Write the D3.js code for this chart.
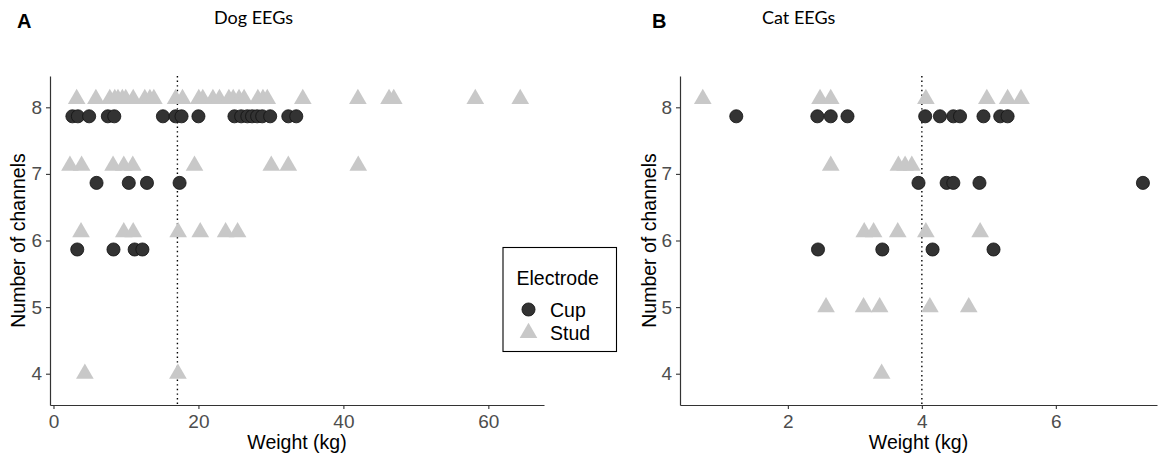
<!DOCTYPE html>
<html>
<head>
<meta charset="utf-8">
<script src="https://cdn.jsdelivr.net/npm/d3@7"></script>
<style>
  body { margin: 0; background: #fff; }
  svg { display: block; }
</style>
</head>
<body>
<div id="wrapper"></div>
<script>
// [weight kg, number of channels]
const dogCup = [
  [2.61, 8], [3.37, 8], [4.92, 8], [7.5, 8], [8.39, 8], [15.1, 8], [16.85, 8], [17.67, 8], [20.0, 8],
  [24.97, 8], [25.9, 8], [26.75, 8], [27.4, 8], [28.1, 8], [28.8, 8], [29.9, 8], [32.4, 8], [33.5, 8],
  [5.94, 7], [10.39, 7], [12.9, 7], [17.4, 7],
  [3.28, 6], [8.28, 6], [11.2, 6], [12.27, 6]
];
const dogStud = [
  [3.2, 8], [5.85, 8], [7.77, 8], [8.46, 8], [8.9, 8], [9.5, 8], [9.97, 8], [11.0, 8], [12.6, 8], [13.3, 8],
  [13.85, 8], [16.85, 8], [17.8, 8], [20.05, 8], [20.6, 8], [22.0, 8], [22.9, 8], [24.2, 8], [24.8, 8],
  [25.6, 8], [26.3, 8], [28.2, 8], [28.9, 8], [29.5, 8], [34.4, 8], [42.0, 8], [46.3, 8], [46.95, 8],
  [58.2, 8], [64.4, 8],
  [2.27, 7], [3.88, 7], [8.22, 7], [9.7, 7], [10.94, 7], [19.46, 7], [30.05, 7], [32.4, 7], [42.05, 7],
  [3.8, 6], [9.7, 6], [11.0, 6], [17.2, 6], [20.25, 6], [23.75, 6], [25.4, 6],
  [4.33, 4], [17.17, 4]
];
const catCup = [
  [1.23, 8], [2.44, 8], [2.64, 8], [2.89, 8], [4.05, 8], [4.27, 8], [4.47, 8], [4.57, 8], [4.92, 8],
  [5.17, 8], [5.28, 8],
  [3.95, 7], [4.37, 7], [4.47, 7], [4.86, 7], [7.3, 7],
  [2.45, 6], [3.41, 6], [4.16, 6], [5.07, 6]
];
const catStud = [
  [0.73, 8], [2.48, 8], [2.64, 8], [4.06, 8], [4.97, 8], [5.28, 8], [5.48, 8],
  [2.64, 7], [3.65, 7], [3.75, 7], [3.85, 7],
  [3.14, 6], [3.28, 6], [3.64, 6], [4.06, 6], [4.87, 6],
  [2.57, 5], [3.13, 5], [3.37, 5], [4.12, 5], [4.7, 5],
  [3.4, 4]
];
const dogMedian = 17.1;
const catMedian = 4.0;
const dogTicks = [0, 20, 40, 60];
const catTicks = [2, 4, 6];
const yTicks = [4, 5, 6, 7, 8];
const electrodes = ["Cup", "Stud"];

const cupFill = "#333333";
const studFill = "#c8c8c8";
const font = "Arial, 'Liberation Sans', Helvetica, sans-serif";

const svg = d3.select("#wrapper").append("svg")
  .attr("width", 1170)
  .attr("height", 459);

const circleSym = d3.symbol().type(d3.symbolCircle).size(135);
const triSym = d3.symbol().type(d3.symbolTriangle).size(135);

function drawPanel(opt) {
  const x = d3.scaleLinear().domain(opt.xDomain).range([opt.left, opt.right]);
  const y = d3.scaleLinear().domain([3.53, 8.47]).range([405, 76]);

  // dodge only on rows where both electrode types occur
  const cupRows = new Set(opt.cup.map(d => d[1]));
  const studRows = new Set(opt.stud.map(d => d[1]));
  const both = n => cupRows.has(n) && studRows.has(n);

  const g = svg.append("g");

  // dotted median line
  g.append("line")
    .attr("x1", x(opt.median)).attr("x2", x(opt.median))
    .attr("y1", y.range()[1]).attr("y2", y.range()[0])
    .attr("stroke", "#000")
    .attr("stroke-width", 1.4)
    .attr("stroke-dasharray", "1.4,3.2");

  g.selectAll(".stud").data(opt.stud).join("path")
    .attr("d", triSym)
    .attr("transform", d => `translate(${x(d[0])},${y(d[1] + (both(d[1]) ? 0.125 : 0))})`)
    .attr("fill", studFill);

  g.selectAll(".cup").data(opt.cup).join("path")
    .attr("d", circleSym)
    .attr("transform", d => `translate(${x(d[0])},${y(d[1] - (both(d[1]) ? 0.135 : 0))})`)
    .attr("fill", cupFill)
    .attr("stroke", "#111")
    .attr("stroke-width", 0.8);

  const xAxis = g.append("g")
    .attr("transform", "translate(0,405)")
    .call(d3.axisBottom(x).tickValues(opt.ticks).tickFormat(d3.format("d"))
      .tickSize(4).tickSizeOuter(0).tickPadding(6));
  const yAxis = g.append("g")
    .attr("transform", `translate(${opt.left},0)`)
    .call(d3.axisLeft(y).tickValues(yTicks).tickFormat(d3.format("d"))
      .tickSize(4).tickSizeOuter(0).tickPadding(4));

  [xAxis, yAxis].forEach(a => {
    a.attr("font-family", font);
    a.select(".domain").attr("stroke", "#333").attr("stroke-width", 1.2);
    a.selectAll(".tick line").attr("stroke", "#333").attr("stroke-width", 1.1);
    a.selectAll(".tick text")
      .attr("fill", "#4d4d4d")
      .style("font-family", font)
      .style("font-size", "19px");
  });

  g.append("text")
    .attr("x", (opt.left + opt.right) / 2)
    .attr("y", 449)
    .attr("text-anchor", "middle")
    .style("font-family", font)
    .style("font-size", "19.5px")
    .text("Weight (kg)");

  g.append("text")
    .attr("transform", `translate(${opt.yTitleX},240.5) rotate(-90)`)
    .attr("text-anchor", "middle")
    .style("font-family", font)
    .style("font-size", "19.5px")
    .text("Number of channels");

  g.append("text")
    .attr("x", opt.tagX)
    .attr("y", 28)
    .style("font-family", font)
    .style("font-weight", "bold")
    .style("font-size", "20px")
    .text(opt.tag);

  g.append("text")
    .attr("x", opt.titleX)
    .attr("y", 24)
    .style("font-family", "Lato, 'Open Sans', sans-serif")
    .style("font-size", "18px")
    .text(opt.title);
}

drawPanel({
  cup: dogCup, stud: dogStud, median: dogMedian, ticks: dogTicks,
  xDomain: [-0.48, 67.68], left: 50, right: 544,
  yTitleX: 25, tagX: 17, tag: "A", titleX: 214, title: "Dog EEGs"
});

drawPanel({
  cup: catCup, stud: catStud, median: catMedian, ticks: catTicks,
  xDomain: [0.39, 7.51], left: 680, right: 1157,
  yTitleX: 656, tagX: 652, tag: "B", titleX: 762, title: "Cat EEGs"
});

// legend
const legend = svg.append("g").attr("transform", "translate(503,247.5)");
legend.append("rect")
  .attr("width", 113.5).attr("height", 104)
  .attr("fill", "#fff")
  .attr("stroke", "#000")
  .attr("stroke-width", 1.1);
legend.append("text")
  .attr("x", 13.5).attr("y", 37.5)
  .style("font-family", font)
  .style("font-size", "19.5px")
  .text("Electrode");
const items = legend.selectAll(".item").data(electrodes).join("g")
  .attr("transform", (d, i) => `translate(25.5,${62 + i * 23.5})`);
items.append("path")
  .attr("d", d => d === "Cup" ? circleSym() : triSym())
  .attr("fill", d => d === "Cup" ? cupFill : studFill)
  .attr("stroke", d => d === "Cup" ? "#111" : "none")
  .attr("stroke-width", 0.8);
items.append("text")
  .attr("x", 21.5).attr("y", 7)
  .style("font-family", font)
  .style("font-size", "19.5px")
  .text(d => d);
</script>
</body>
</html>
